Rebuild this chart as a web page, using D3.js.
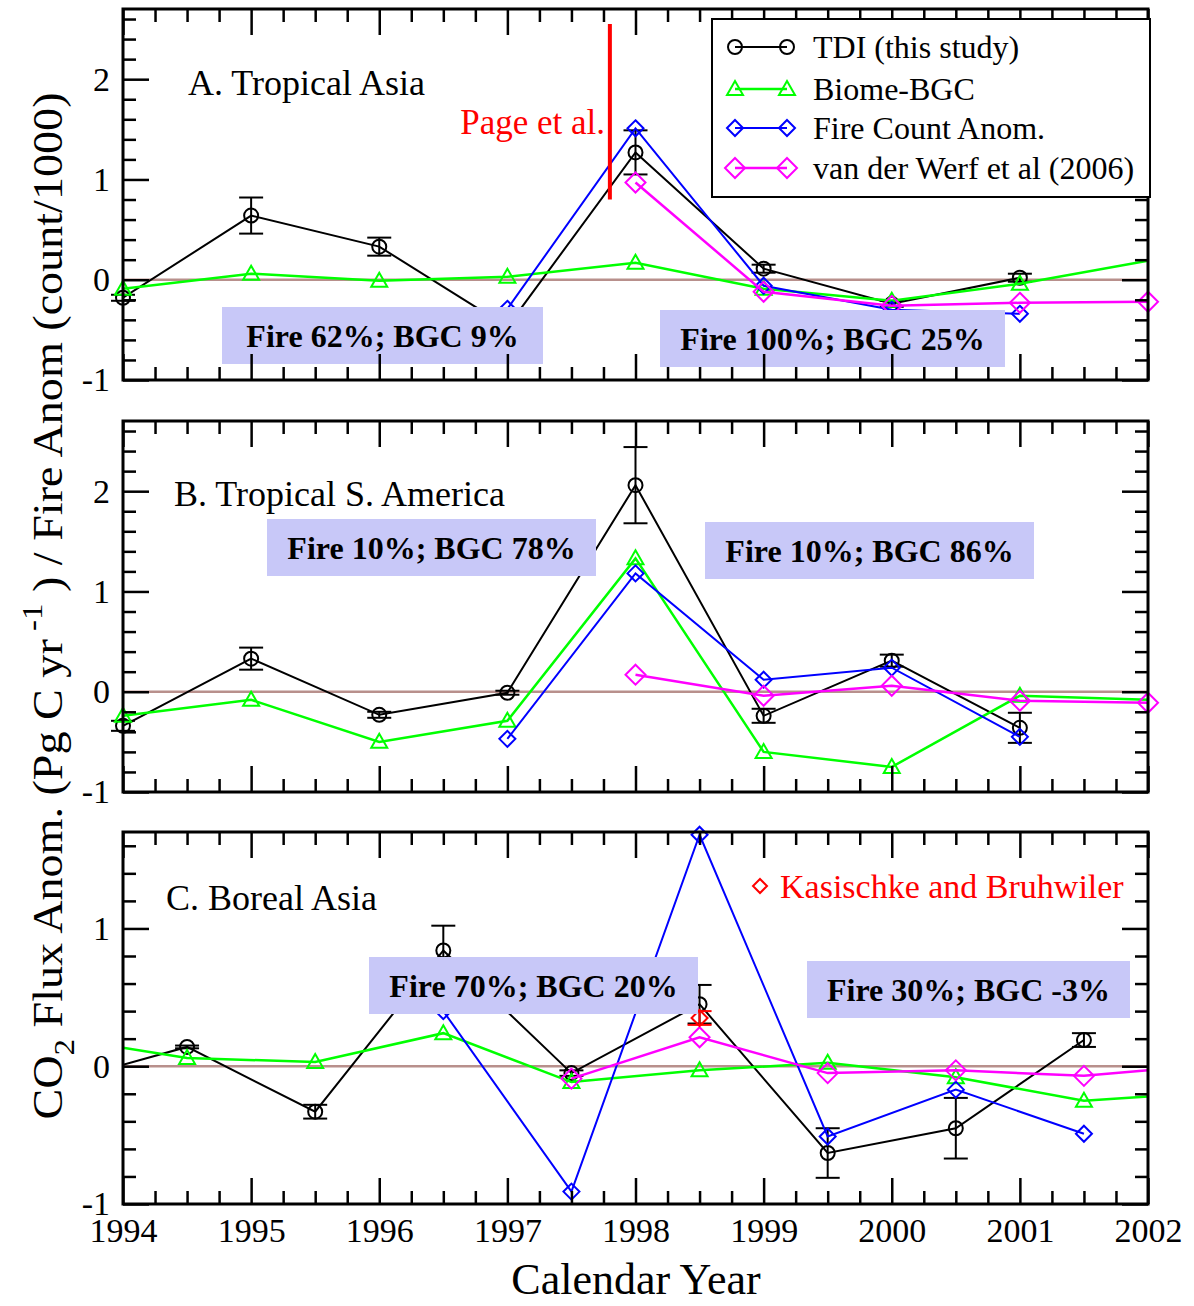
<!DOCTYPE html>
<html>
<head>
<meta charset="utf-8">
<script src="https://cdn.jsdelivr.net/npm/d3@7"></script>
<style>
  body { margin: 0; background: #fff; }
  text { font-family: "Liberation Serif", "Times New Roman", serif; }
</style>
</head>
<body>
<div id="chart"></div>
<script>
// ---- data ----
var years = [1994, 1995, 1996, 1997, 1998, 1999, 2000, 2001, 2002];
var yearTicks = [1994, 1995, 1996, 1997, 1998, 1999, 2000, 2001, 2002];

// A. Tropical Asia
var tdiYearsA = [1994, 1995, 1996, 1997, 1998, 1999, 2000, 2001];
var tdiA      = [-0.18, 0.64, 0.33, -0.47, 1.27, 0.11, -0.24, 0.02];
var tdiErrA   = [0.03, 0.18, 0.09, 0.08, 0.22, 0.04, 0.03, 0.04];
var bgcA      = [-0.09, 0.06, -0.01, 0.03, 0.17, -0.09, -0.21, -0.04, 0.19];
var fireYearsA = [1997, 1998, 1999, 2000, 2001];
var fireA      = [-0.29, 1.51, -0.06, -0.30, -0.34];
var vdwYearsA  = [1998, 1999, 2000, 2001, 2002];
var vdwA       = [0.97, -0.12, -0.26, -0.23, -0.22];
var pageX = 1997.8, pageRange = [0.8, 2.55];
var boxLabelsA = ["Fire 62%; BGC 9%", "Fire 100%; BGC 25%"];

// B. Tropical S. America
var tdiYearsB = [1994, 1995, 1996, 1997, 1998, 1999, 2000, 2001];
var tdiB      = [-0.34, 0.33, -0.23, -0.01, 2.06, -0.24, 0.31, -0.36];
var tdiErrB   = [0.05, 0.11, 0.03, 0.02, 0.38, 0.07, 0.06, 0.15];
var bgcB      = [-0.24, -0.08, -0.50, -0.29, 1.33, -0.60, -0.75, -0.04, -0.08];
var fireYearsB = [1997, 1998, 1999, 2000, 2001];
var fireB      = [-0.47, 1.18, 0.12, 0.24, -0.45];
var vdwYearsB  = [1998, 1999, 2000, 2001, 2002];
var vdwB       = [0.17, -0.04, 0.06, -0.09, -0.11];
var boxLabelsB = ["Fire 10%; BGC 78%", "Fire 10%; BGC 86%"];

// C. Boreal Asia (mid-year points, lines run on to the frame)
var tdiYearsC = [1994, 1994.5, 1995.5, 1996.5, 1997.5, 1998.5, 1999.5, 2000.5, 2001.5];
var tdiC      = [0.01, 0.14, -0.33, 0.84, -0.05, 0.45, -0.63, -0.45, 0.19];
var tdiErrC   = [null, 0.01, 0.05, 0.18, 0.02, 0.14, 0.18, 0.22, 0.05];
var bgcYearsC = [1994, 1994.5, 1995.5, 1996.5, 1997.5, 1998.5, 1999.5, 2000.5, 2001.5, 2002];
var bgcC      = [0.135, 0.06, 0.03, 0.24, -0.115, -0.03, 0.025, -0.08, -0.25, -0.22];
var fireYearsC = [1996.5, 1997.5, 1998.5, 1999.5, 2000.5, 2001.5];
var fireC      = [0.40, -0.91, 1.68, -0.51, -0.17, -0.49];
var vdwYearsC  = [1997.5, 1998.5, 1999.5, 2000.5, 2001.5, 2002];
var vdwC       = [-0.09, 0.21, -0.05, -0.03, -0.07, -0.03];
var kbYearsC = [1998.5], kbC = [0.35], kbErrC = [0.05];
var boxLabelsC = ["Fire 70%; BGC 20%", "Fire 30%; BGC -3%"];

var legendLabels = ["TDI (this study)", "Biome-BGC", "Fire Count Anom.", "van der Werf et al (2006)"];

// ---- styles ----
var styles = {
  tdi:  {color: "#000000", shape: "circle",   r: 7,   lw: 2},
  bgc:  {color: "#00ff00", shape: "triangle", r: 8,   lw: 2.5},
  fire: {color: "#0000ff", shape: "diamond",  r: 8,   lw: 2},
  vdw:  {color: "#ff00ff", shape: "diamond",  r: 10,  lw: 2.5},
  kb:   {color: "#ff0000", shape: "diamond",  r: 8,   lw: 2}
};

var width = 1194, height = 1306;
var x = d3.scaleLinear().domain([1994, 2002]).range([123, 1148]);

var svg = d3.select("#chart").append("svg")
    .attr("width", width)
    .attr("height", height);

function markerPath(shape, r) {
  if (shape == "circle") return d3.symbol(d3.symbolCircle, Math.PI * r * r)();
  if (shape == "triangle") return "M0," + (-r) + "L" + r + "," + (r * 0.75) + "L" + (-r) + "," + (r * 0.75) + "Z";
  return "M0," + (-r) + "L" + r + ",0L0," + r + "L" + (-r) + ",0Z";
}

var panels = [
  {id: "A", top: 9, bottom: 380, domain: [-1, 2.7], title: "A. Tropical Asia", titlePos: [188, 95],
   boxes: [[222, 307, 321], [660, 310, 345]], boxLabels: boxLabelsA,
   series: [
     {key: "tdi", x: tdiYearsA, y: tdiA, err: tdiErrA},
     {key: "bgc", x: years, y: bgcA, noMarker: [2002]},
     {key: "fire", x: fireYearsA, y: fireA},
     {key: "vdw", x: vdwYearsA, y: vdwA}
   ]},
  {id: "B", top: 421, bottom: 792, domain: [-1, 2.7], title: "B. Tropical S. America", titlePos: [174, 506],
   boxes: [[267, 519, 329], [705, 522, 329]], boxLabels: boxLabelsB,
   series: [
     {key: "tdi", x: tdiYearsB, y: tdiB, err: tdiErrB},
     {key: "bgc", x: years, y: bgcB, noMarker: [2002]},
     {key: "fire", x: fireYearsB, y: fireB},
     {key: "vdw", x: vdwYearsB, y: vdwB}
   ]},
  {id: "C", top: 832, bottom: 1204, domain: [-1, 1.7], title: "C. Boreal Asia", titlePos: [166, 910],
   boxes: [[369, 957, 329], [807, 961, 323]], boxLabels: boxLabelsC,
   series: [
     {key: "tdi", x: tdiYearsC, y: tdiC, err: tdiErrC, noMarker: [1994]},
     {key: "bgc", x: bgcYearsC, y: bgcC, noMarker: [1994, 2002]},
     {key: "fire", x: fireYearsC, y: fireC},
     {key: "vdw", x: vdwYearsC, y: vdwC, noMarker: [2002]},
     {key: "kb", x: kbYearsC, y: kbC, err: kbErrC}
   ]}
];

panels.forEach(function(p) {
  var y = d3.scaleLinear().domain(p.domain).range([p.bottom, p.top]);
  var g = svg.append("g").attr("class", "panel-" + p.id);
  var x0 = x.range()[0], x1 = x.range()[1];

  svg.append("clipPath").attr("id", "clip" + p.id)
    .append("rect")
      .attr("x", x0).attr("y", p.top)
      .attr("width", x1 - x0).attr("height", p.bottom - p.top);

  // zero line
  g.append("line")
      .attr("x1", x(1994)).attr("x2", x(2002))
      .attr("y1", y(0)).attr("y2", y(0))
      .style("stroke", "#b8908c")
      .style("stroke-width", 2.5);

  var line = d3.line()
      .x(function(d) { return x(d.x); })
      .y(function(d) { return y(d.y); });

  p.series.forEach(function(s) {
    var st = styles[s.key];
    var pts = s.x.map(function(xx, i) {
      return {x: xx, y: s.y[i], e: s.err ? s.err[i] : null};
    });

    g.append("path")
        .datum(pts)
        .attr("clip-path", "url(#clip" + p.id + ")")
        .attr("d", line)
        .style("fill", "none")
        .style("stroke", st.color)
        .style("stroke-width", st.lw);

    // error bars
    pts.filter(function(d) { return d.e != null; }).forEach(function(d) {
      var eb = g.append("g").style("stroke", st.color).style("stroke-width", 2);
      eb.append("line")
          .attr("x1", x(d.x)).attr("x2", x(d.x))
          .attr("y1", y(d.y - d.e)).attr("y2", y(d.y + d.e));
      [d.y - d.e, d.y + d.e].forEach(function(v) {
        eb.append("line")
            .attr("x1", x(d.x) - 12).attr("x2", x(d.x) + 12)
            .attr("y1", y(v)).attr("y2", y(v));
      });
    });

    g.selectAll(null)
        .data(pts.filter(function(d) { return !(s.noMarker && s.noMarker.indexOf(d.x) >= 0); }))
      .enter().append("path")
        .attr("transform", function(d) { return "translate(" + x(d.x) + "," + y(d.y) + ")"; })
        .attr("d", markerPath(st.shape, st.r))
        .style("fill", "none")
        .style("stroke", st.color)
        .style("stroke-width", 2);
  });

  // shaded annotation boxes
  p.boxes.forEach(function(b, i) {
    g.append("rect")
        .attr("x", b[0]).attr("y", b[1])
        .attr("width", b[2]).attr("height", 57)
        .style("fill", "#c8c8f8");
    g.append("text")
        .attr("x", b[0] + b[2] / 2)
        .attr("y", b[1] + 28.5)
        .attr("dy", "0.35em")
        .style("text-anchor", "middle")
        .style("font-weight", "bold")
        .style("font-size", "32px")
        .text(p.boxLabels[i]);
  });

  // ticks, all pointing inward
  var majorY = d3.range(Math.ceil(p.domain[0]), Math.floor(p.domain[1]) + 1);
  var minorY = d3.range(-0.8, p.domain[1], 0.2).filter(function(v) {
    return Math.abs(v - Math.round(v)) > 1e-6;
  });
  var minorX = d3.range(1994.25, 2002, 0.25).filter(function(v) { return v % 1 != 0; });

  function tidy(sel, fontSize) {
    sel.select(".domain").remove();
    sel.selectAll(".tick line").style("stroke-width", 2.5);
    sel.attr("font-size", fontSize).attr("font-family", null);
    sel.selectAll(".tick text").style("fill", "#000");
  }

  g.append("g").attr("transform", "translate(" + x0 + ",0)")
      .call(d3.axisLeft(y).tickValues(majorY).tickSize(-26).tickPadding(13)
        .tickFormat(function(d) { return String(d); }))
      .call(tidy, 34);
  g.append("g").attr("transform", "translate(" + x0 + ",0)")
      .call(d3.axisLeft(y).tickValues(minorY).tickSize(-13).tickFormat(""))
      .call(tidy, 34);
  g.append("g").attr("transform", "translate(" + x1 + ",0)")
      .call(d3.axisRight(y).tickValues(majorY).tickSize(-26).tickFormat(""))
      .call(tidy, 34);
  g.append("g").attr("transform", "translate(" + x1 + ",0)")
      .call(d3.axisRight(y).tickValues(minorY).tickSize(-13).tickFormat(""))
      .call(tidy, 34);
  g.append("g").attr("transform", "translate(0," + p.top + ")")
      .call(d3.axisTop(x).tickValues(yearTicks).tickSize(-26).tickFormat(""))
      .call(tidy, 34);
  g.append("g").attr("transform", "translate(0," + p.top + ")")
      .call(d3.axisTop(x).tickValues(minorX).tickSize(-13).tickFormat(""))
      .call(tidy, 34);
  g.append("g").attr("transform", "translate(0," + p.bottom + ")")
      .call(d3.axisBottom(x).tickValues(yearTicks).tickSize(-26).tickPadding(14)
        .tickFormat(p.id == "C" ? function(d) { return String(d); } : ""))
      .call(tidy, 34);
  g.append("g").attr("transform", "translate(0," + p.bottom + ")")
      .call(d3.axisBottom(x).tickValues(minorX).tickSize(-13).tickFormat(""))
      .call(tidy, 34);

  // frame
  g.append("rect")
      .attr("x", x0).attr("y", p.top)
      .attr("width", x1 - x0).attr("height", p.bottom - p.top)
      .style("fill", "none")
      .style("stroke", "#000")
      .style("stroke-width", 3);

  g.append("text")
      .attr("x", p.titlePos[0]).attr("y", p.titlePos[1])
      .style("font-size", "36px")
      .text(p.title);

  p.y = y;
});

// Page et al. marker in panel A
var yA = panels[0].y;
svg.append("line")
    .attr("x1", x(pageX)).attr("x2", x(pageX))
    .attr("y1", yA(pageRange[0])).attr("y2", yA(pageRange[1]))
    .style("stroke", "#ff0000")
    .style("stroke-width", 4);
svg.append("text")
    .attr("x", 605).attr("y", 134)
    .style("text-anchor", "end")
    .style("font-size", "35px")
    .style("fill", "#ff0000")
    .text("Page et al.");

// legend in panel A
var legend = svg.append("g").attr("class", "legend");
legend.append("rect")
    .attr("x", 712).attr("y", 19)
    .attr("width", 438).attr("height", 178)
    .style("fill", "#fff")
    .style("stroke", "#000")
    .style("stroke-width", 2);
var legendKeys = ["tdi", "bgc", "fire", "vdw"];
var legendRows = legend.selectAll(".row")
    .data(legendKeys)
  .enter().append("g")
    .attr("class", "row")
    .attr("transform", function(d, i) { return "translate(0," + [47, 89, 128, 168][i] + ")"; });
legendRows.append("line")
    .attr("x1", 735).attr("x2", 787)
    .style("stroke", function(d) { return styles[d].color; })
    .style("stroke-width", function(d) { return styles[d].lw; });
[735, 787].forEach(function(mx) {
  legendRows.append("path")
      .attr("transform", "translate(" + mx + ",0)")
      .attr("d", function(d) { return markerPath(styles[d].shape, styles[d].r); })
      .style("fill", "none")
      .style("stroke", function(d) { return styles[d].color; })
      .style("stroke-width", 2);
});
legendRows.append("text")
    .attr("x", 813)
    .attr("dy", "0.35em")
    .style("font-size", "32px")
    .text(function(d, i) { return legendLabels[i]; });

// Kasischke and Bruhwiler label in panel C
svg.append("path")
    .attr("transform", "translate(760,886)")
    .attr("d", markerPath("diamond", 7))
    .style("fill", "none")
    .style("stroke", "#ff0000")
    .style("stroke-width", 2);
svg.append("text")
    .attr("x", 780).attr("y", 898)
    .style("font-size", "34px")
    .style("fill", "#ff0000")
    .text("Kasischke and Bruhwiler");

// axis titles
svg.append("text")
    .attr("x", 636).attr("y", 1294)
    .style("text-anchor", "middle")
    .style("font-size", "44px")
    .text("Calendar Year");

var ytitle = svg.append("text")
    .attr("transform", "translate(62,606) rotate(-90)")
    .style("text-anchor", "middle")
    .style("font-size", "42px")
    .attr("textLength", 1027)
    .attr("lengthAdjust", "spacingAndGlyphs");
ytitle.append("tspan").text("CO");
ytitle.append("tspan").attr("dy", 12).style("font-size", "30px").text("2");
ytitle.append("tspan").attr("dy", -12).text("  Flux Anom. (Pg C yr");
ytitle.append("tspan").attr("dy", -20).style("font-size", "30px").text(" -1");
ytitle.append("tspan").attr("dy", 20).text(" ) / Fire Anom (count/1000)");
</script>
</body>
</html>
